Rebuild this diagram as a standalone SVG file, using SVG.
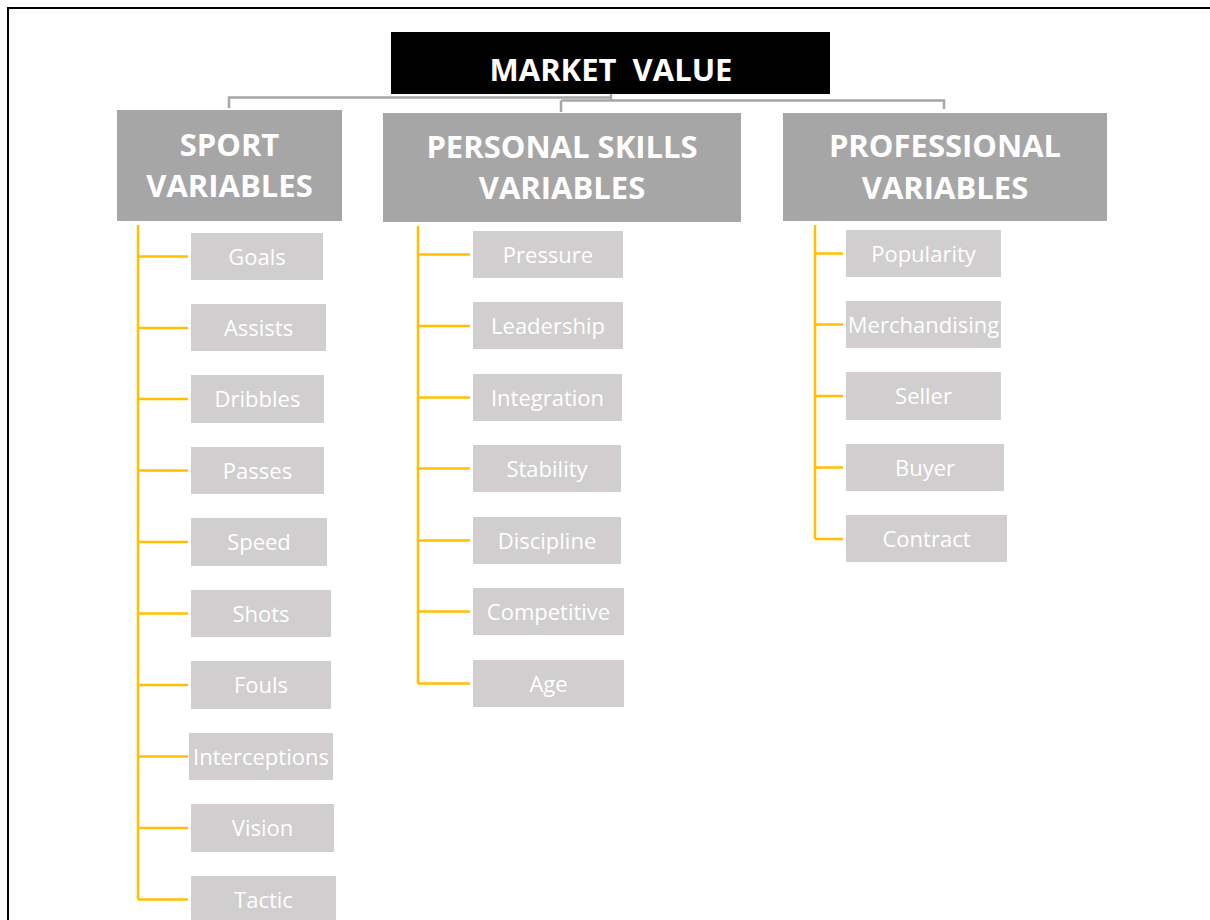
<svg xmlns="http://www.w3.org/2000/svg" width="1210" height="920" viewBox="0 0 1210 920">
<style>
.hd{fill:#a6a6a6}
.lf{fill:#d0cece}
.t1{font-family:"Open Sans","Liberation Sans",sans-serif;font-weight:bold;font-size:31px;fill:#fff;text-anchor:middle}
.t2{font-family:"Open Sans","Liberation Sans",sans-serif;font-size:22px;fill:#fff;text-anchor:middle}
.g{fill:none;stroke:#a6a6a6;stroke-width:2.5}
.y{fill:none;stroke:#ffc000;stroke-width:2.5}
</style>
<rect x="0" y="0" width="1210" height="920" fill="#fff"/>
<rect x="8" y="8" width="1220" height="930" fill="none" stroke="#000" stroke-width="2"/>
<g id="connectors">
<path class="g" d="M229,108 V97.5 H611 V94 M611,97.5 V100.5 M561,100.5 H944 V109 M561,100.5 V112"/>
<path class="y" d="M138,225 V899.5 M138,256.5 H188 M138,328 H188 M138,399 H188 M138,470.5 H188 M138,542 H188 M138,613.5 H188 M138,685 H188 M138,756.5 H188 M138,828 H188 M138,899.5 H188"/>
<path class="y" d="M418,226 V683.5 M418,254.5 H470 M418,326 H470 M418,397.5 H470 M418,468.5 H470 M418,540.5 H470 M418,611.5 H470 M418,683.5 H470"/>
<path class="y" d="M815,225 V539 M815,253.5 H843 M815,324.5 H843 M815,396 H843 M815,467.5 H843 M815,539 H843"/>
</g>
<g id="market-value"><rect x="391" y="32" width="439" height="62" fill="#000"/><text class="t1" x="611" y="81" xml:space="preserve">MARKET  VALUE</text></g>
<g id="sport"><rect class="hd" x="117" y="110" width="225" height="111"/><text class="t1" x="229.5" y="156">SPORT</text><text class="t1" x="229.5" y="197">VARIABLES</text></g>
<g id="personal"><rect class="hd" x="383" y="113" width="358" height="109"/><text class="t1" x="562" y="158">PERSONAL SKILLS</text><text class="t1" x="562" y="199">VARIABLES</text></g>
<g id="professional"><rect class="hd" x="783" y="113" width="324" height="108"/><text class="t1" x="945" y="157">PROFESSIONAL</text><text class="t1" x="945" y="199">VARIABLES</text></g>
<g id="goals"><rect class="lf" x="191" y="233" width="132" height="47"/><text class="t2" x="257" y="264.5">Goals</text></g>
<g id="assists"><rect class="lf" x="191" y="304" width="135" height="47"/><text class="t2" x="258.5" y="335.5">Assists</text></g>
<g id="dribbles"><rect class="lf" x="191" y="375" width="133" height="48"/><text class="t2" x="257.5" y="407">Dribbles</text></g>
<g id="passes"><rect class="lf" x="191" y="447" width="133" height="47"/><text class="t2" x="257.5" y="478.5">Passes</text></g>
<g id="speed"><rect class="lf" x="191" y="518" width="136" height="48"/><text class="t2" x="259" y="550">Speed</text></g>
<g id="shots"><rect class="lf" x="191" y="590" width="140" height="47"/><text class="t2" x="261" y="621.5">Shots</text></g>
<g id="fouls"><rect class="lf" x="191" y="661" width="140" height="48"/><text class="t2" x="261" y="693">Fouls</text></g>
<g id="interceptions"><rect class="lf" x="189" y="733" width="144" height="47"/><text class="t2" x="261" y="764.5">Interceptions</text></g>
<g id="vision"><rect class="lf" x="191" y="804" width="143" height="48"/><text class="t2" x="262.5" y="836">Vision</text></g>
<g id="tactic"><rect class="lf" x="191" y="876" width="145" height="48"/><text class="t2" x="263.5" y="907.5">Tactic</text></g>
<g id="pressure"><rect class="lf" x="473" y="231" width="150" height="47"/><text class="t2" x="548" y="262.5">Pressure</text></g>
<g id="leadership"><rect class="lf" x="473" y="302" width="150" height="47"/><text class="t2" x="548" y="333.5">Leadership</text></g>
<g id="integration"><rect class="lf" x="473" y="374" width="149" height="47"/><text class="t2" x="547.5" y="405.5">Integration</text></g>
<g id="stability"><rect class="lf" x="473" y="445" width="148" height="47"/><text class="t2" x="547" y="476.5">Stability</text></g>
<g id="discipline"><rect class="lf" x="473" y="517" width="148" height="47"/><text class="t2" x="547" y="548.5">Discipline</text></g>
<g id="competitive"><rect class="lf" x="473" y="588" width="151" height="47"/><text class="t2" x="548.5" y="619.5">Competitive</text></g>
<g id="age"><rect class="lf" x="473" y="660" width="151" height="47"/><text class="t2" x="548.5" y="691.5">Age</text></g>
<g id="popularity"><rect class="lf" x="846" y="230" width="155" height="47"/><text class="t2" x="923.5" y="261.5">Popularity</text></g>
<g id="merchandising"><rect class="lf" x="846" y="301" width="155" height="47"/><text class="t2" x="923.5" y="332.5">Merchandising</text></g>
<g id="seller"><rect class="lf" x="846" y="372" width="155" height="48"/><text class="t2" x="923.5" y="404">Seller</text></g>
<g id="buyer"><rect class="lf" x="846" y="444" width="158" height="47"/><text class="t2" x="925" y="475.5">Buyer</text></g>
<g id="contract"><rect class="lf" x="846" y="515" width="161" height="47"/><text class="t2" x="926.5" y="546.5">Contract</text></g>
</svg>
